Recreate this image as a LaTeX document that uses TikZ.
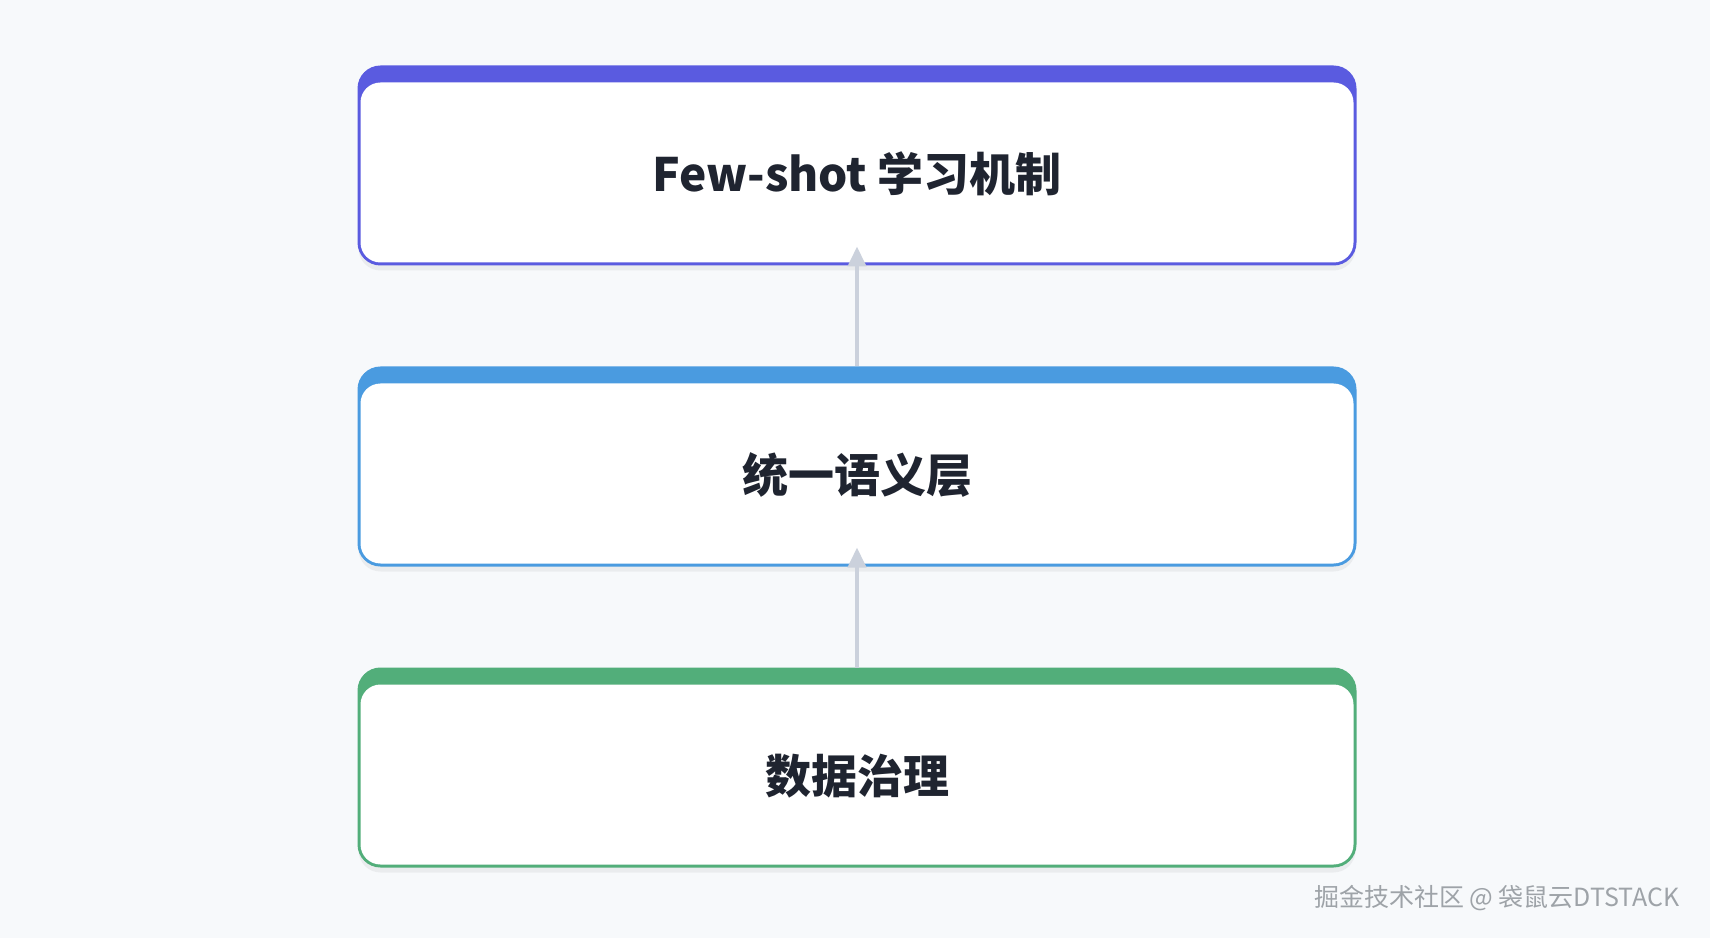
\documentclass[tikz,border=0pt]{standalone}
\usepackage{fontspec}
\setmainfont{Noto Sans CJK SC}
\usetikzlibrary{positioning,arrows.meta,shadows}

\definecolor{pagebg}{HTML}{F7F9FB}
\definecolor{fewshotc}{HTML}{5A5BE0}
\definecolor{semanticc}{HTML}{4A9BE0}
\definecolor{governc}{HTML}{52AE7A}
\definecolor{textc}{HTML}{1F2430}
\definecolor{arrowc}{HTML}{CBD1DC}
\definecolor{markc}{HTML}{9EA3A8}

\tikzset{
  layer/.style={rectangle, rounded corners=22pt, minimum width=997pt, minimum height=198pt,
    line width=2pt, draw=#1, fill=white, text=textc,
    font=\fontsize{46}{50}\selectfont\bfseries, text height=58pt, text depth=6pt,
    drop shadow={shadow xshift=0pt, shadow yshift=-6pt, opacity=0.05, fill=black},
    path picture={
      \fill[#1] (path picture bounding box.north west) rectangle (path picture bounding box.south east);
      \fill[white, rounded corners=20pt] ([shift={(2pt,-16pt)}]path picture bounding box.north west)
        rectangle ([shift={(-2pt,2pt)}]path picture bounding box.south east);
    }},
  flow/.style={draw=arrowc, line width=4pt, -{Triangle[width=18pt,length=20pt]}},
}

\begin{document}
\begin{tikzpicture}[x=1pt, y=1pt]
    % Page background
    \fill[pagebg] (0,0) rectangle (1710,938);
    \useasboundingbox (0,0) rectangle (1710,938);

    % Layers, top to bottom
    \node[layer=fewshotc] (fewshot) at (857,772.5) {Few-shot 学习机制};
    \node[layer=semanticc, below=101pt of fewshot] (semantic) {统一语义层};
    \node[layer=governc, below=101pt of semantic] (govern) {数据治理};

    % Upward flow
    \draw[flow] (semantic.north) -- ([yshift=19pt]fewshot.south);
    \draw[flow] (govern.north) -- ([yshift=19pt]semantic.south);

    % Watermark
    \node[anchor=east, font=\fontsize{25}{28}\selectfont, text=markc] (mark) at (1683,40) {掘金技术社区 @ 袋鼠云DTSTACK};
\end{tikzpicture}
\end{document}
